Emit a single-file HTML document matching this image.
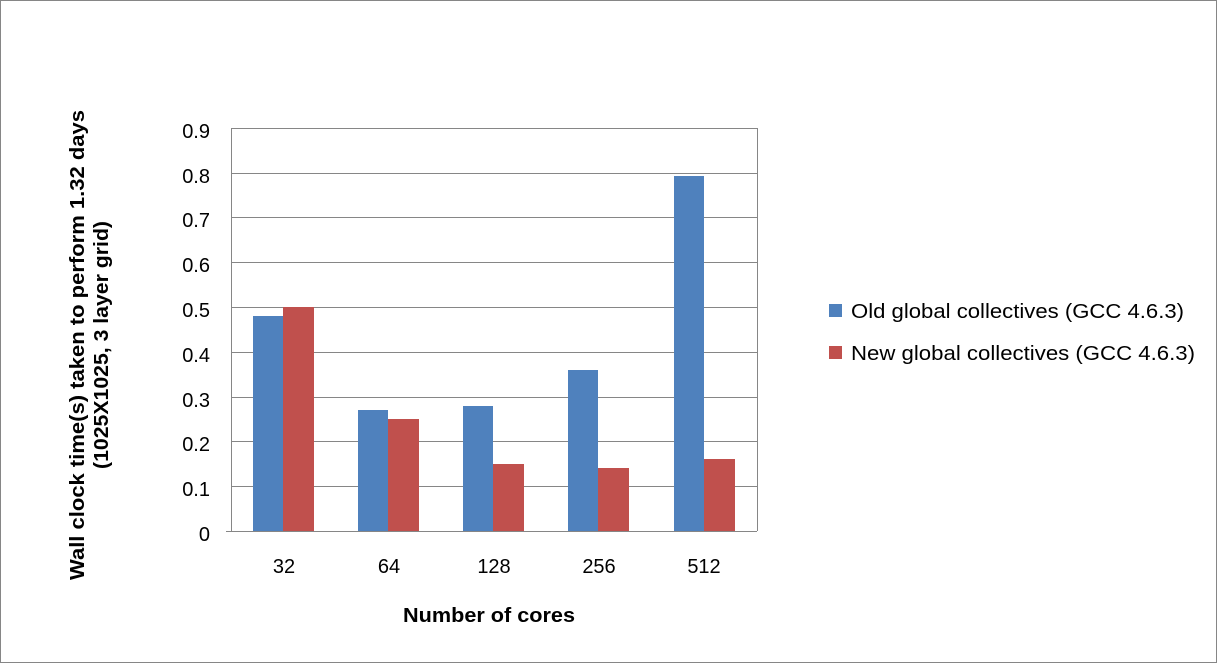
<!DOCTYPE html>
<html><head><meta charset="utf-8"><style>
body{margin:0;background:#fff}
svg{display:block;font-family:"Liberation Sans",Arial,sans-serif}
</style></head><body>
<svg width="1217" height="663" viewBox="0 0 1217 663">
<rect x="0.5" y="0.5" width="1216" height="662" fill="#fff" stroke="#868686"/>
<g stroke="#868686" stroke-width="1">
<line x1="231" y1="128.5" x2="757" y2="128.5"/>
<line x1="231" y1="173.5" x2="757" y2="173.5"/>
<line x1="231" y1="217.5" x2="757" y2="217.5"/>
<line x1="231" y1="262.5" x2="757" y2="262.5"/>
<line x1="231" y1="307.5" x2="757" y2="307.5"/>
<line x1="231" y1="352.5" x2="757" y2="352.5"/>
<line x1="231" y1="397.5" x2="757" y2="397.5"/>
<line x1="231" y1="441.5" x2="757" y2="441.5"/>
<line x1="231" y1="486.5" x2="757" y2="486.5"/>
<line x1="231.5" y1="128" x2="231.5" y2="531"/>
<line x1="757.5" y1="128" x2="757.5" y2="531"/>
<line x1="226" y1="531.5" x2="757" y2="531.5"/>
</g>
<g fill="#4F81BD">
<rect x="253" y="316" width="30" height="215"/>
<rect x="358" y="410" width="30" height="121"/>
<rect x="463" y="406" width="30" height="125"/>
<rect x="568" y="370" width="30" height="161"/>
<rect x="674" y="176" width="30" height="355"/>
</g>
<g fill="#C0504D">
<rect x="283" y="307" width="31" height="224"/>
<rect x="388" y="419" width="31" height="112"/>
<rect x="493" y="464" width="31" height="67"/>
<rect x="598" y="468" width="31" height="63"/>
<rect x="704" y="459" width="31" height="72"/>
</g>
<g font-size="20" fill="#000" text-anchor="end">
<text x="210" y="138">0.9</text><text x="210" y="183">0.8</text><text x="210" y="227">0.7</text>
<text x="210" y="272">0.6</text><text x="210" y="317">0.5</text><text x="210" y="362">0.4</text>
<text x="210" y="407">0.3</text><text x="210" y="451">0.2</text><text x="210" y="496">0.1</text>
<text x="210" y="541">0</text>
</g>
<g font-size="20" fill="#000" text-anchor="middle">
<text x="284" y="573">32</text><text x="389" y="573">64</text><text x="494" y="573">128</text>
<text x="599" y="573">256</text><text x="704" y="573">512</text>
</g>
<text x="489" y="622" font-size="20" font-weight="bold" text-anchor="middle" textLength="172" lengthAdjust="spacingAndGlyphs">Number of cores</text>
<g font-size="20" font-weight="bold" text-anchor="middle">
<text transform="translate(84,345) rotate(-90)" textLength="470" lengthAdjust="spacingAndGlyphs">Wall clock time(s) taken to perform 1.32 days</text>
<text transform="translate(108,345) rotate(-90)" textLength="248" lengthAdjust="spacingAndGlyphs">(1025X1025, 3 layer grid)</text>
</g>
<rect x="829" y="304" width="13" height="13" fill="#4F81BD"/>
<text x="851" y="318" font-size="20" textLength="333" lengthAdjust="spacingAndGlyphs">Old global collectives (GCC 4.6.3)</text>
<rect x="829" y="346" width="13" height="13" fill="#C0504D"/>
<text x="851" y="360" font-size="20" textLength="344" lengthAdjust="spacingAndGlyphs">New global collectives (GCC 4.6.3)</text>
</svg>
</body></html>
